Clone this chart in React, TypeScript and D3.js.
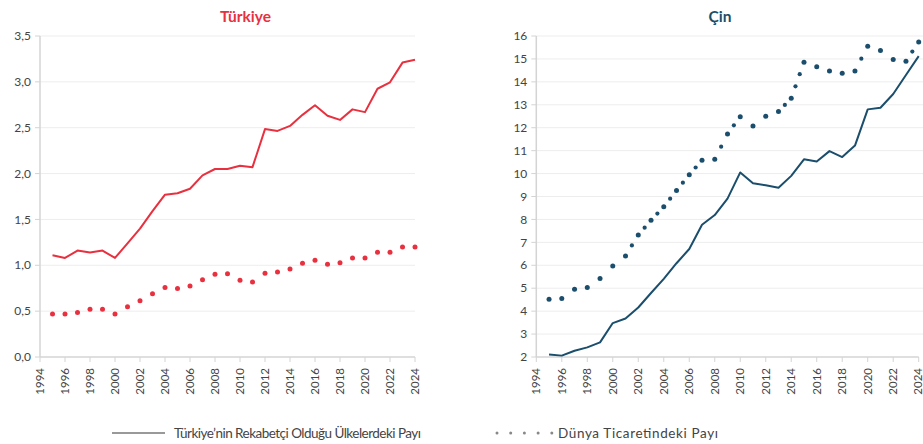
import React from "react";
import * as d3 from "d3";

const years = d3.range(1995, 2025);
const xTickYears = d3.range(1994, 2025, 2);

// Türkiye
const trRekabet = [1.11, 1.08, 1.16, 1.14, 1.16, 1.08, 1.24, 1.4, 1.59, 1.77, 1.785, 1.835, 1.98, 2.05, 2.05, 2.085, 2.07, 2.485, 2.465, 2.52, 2.64, 2.745, 2.63, 2.585, 2.7, 2.67, 2.925, 2.995, 3.21, 3.24];
const trDunya = [0.47, 0.47, 0.485, 0.52, 0.52, 0.47, 0.547, 0.613, 0.69, 0.759, 0.748, 0.774, 0.843, 0.901, 0.909, 0.836, 0.818, 0.912, 0.927, 0.96, 1.022, 1.055, 1.011, 1.029, 1.08, 1.08, 1.142, 1.142, 1.2, 1.2];
const trTicks = [0, 0.5, 1, 1.5, 2, 2.5, 3, 3.5];

// Çin
const cnRekabet = [2.11, 2.06, 2.27, 2.42, 2.64, 3.48, 3.68, 4.16, 4.79, 5.41, 6.09, 6.71, 7.77, 8.19, 8.91, 10.05, 9.58, 9.49, 9.38, 9.9, 10.62, 10.53, 10.98, 10.72, 11.22, 12.8, 12.87, 13.47, 14.3, 15.12];
const cnDunya = [4.52, 4.55, 4.96, 5.03, 5.42, 5.97, 6.41, 7.32, 7.96, 8.55, 9.26, 9.95, 10.58, 10.62, 11.73, 12.48, 12.07, 12.5, 12.71, 13.28, 14.86, 14.66, 14.47, 14.37, 14.47, 15.55, 15.37, 14.97, 14.9, 15.74];
const cnTicks = d3.range(2, 17);

const legendLabels = ["Türkiye’nin Rekabetçi Olduğu Ülkelerdeki Payı", "Dünya Ticaretindeki Payı"];

const RED = "#E8303F";
const TEAL = "#1A4E6C";
const FONT = "Lato, 'Noto Sans', sans-serif";

type PanelProps = {
  title: string;
  colour: string;
  titleX: number;
  left: number;
  right: number;
  gridRight: number;
  yMax: number;
  yMin: number;
  ticks: number[];
  fmt: (v: number) => string;
  solid: number[];
  dotted: number[];
};

const top = 36;
const bottom = 357;

// dots along each segment, like the round-dot dash of the original
function dotPoints(xs: number[], ys: number[]) {
  const pts: { x: number; y: number; v: boolean }[] = [];
  for (let i = 0; i < xs.length - 1; i++) {
    const dx = xs[i + 1] - xs[i];
    const dy = ys[i + 1] - ys[i];
    const len = Math.sqrt(dx * dx + dy * dy);
    const n = Math.max(1, Math.round(len / 12));
    for (let k = 0; k < n; k++) {
      pts.push({ x: xs[i] + (dx * k) / n, y: ys[i] + (dy * k) / n, v: k === 0 });
    }
  }
  pts.push({ x: xs[xs.length - 1], y: ys[ys.length - 1], v: true });
  return pts;
}

const Panel = (p: PanelProps) => {
  const x = d3.scaleLinear().domain([1994, 2024]).range([p.left, p.right]);
  const y = d3.scaleLinear().domain([p.yMin, p.yMax]).range([bottom, top]);

  const line = d3
    .line<number>()
    .x((d, i) => x(years[i]))
    .y((d) => y(d));

  const dots = dotPoints(
    years.map((yr) => x(yr)),
    p.dotted.map((v) => y(v))
  );

  return (
    <g>
      <text x={p.titleX} y={22} textAnchor="middle" fill={p.colour} fontSize={15.5} fontWeight={700} fontFamily={FONT}>
        {p.title}
      </text>
      {p.ticks.map((t) => (
        <g key={t}>
          {t !== p.yMin && (
            <line x1={p.left} x2={p.gridRight} y1={y(t)} y2={y(t)} stroke="#EDEDED" strokeWidth={1} />
          )}
          <line x1={p.left - 5} x2={p.left} y1={y(t)} y2={y(t)} stroke="#D4D4D4" strokeWidth={1} />
          <text x={p.left - 9} y={y(t)} dy="0.35em" textAnchor="end" fontSize={12} fill="#444" fontFamily={FONT}>
            {p.fmt(t)}
          </text>
        </g>
      ))}
      <line x1={p.left} x2={p.left} y1={top} y2={bottom} stroke="#D4D4D4" strokeWidth={1.5} />
      <line x1={p.left} x2={p.right} y1={bottom} y2={bottom} stroke="#D4D4D4" strokeWidth={1.5} />
      {xTickYears.map((yr) => (
        <g key={yr}>
          <line x1={x(yr)} x2={x(yr)} y1={bottom} y2={bottom + 5} stroke="#D4D4D4" strokeWidth={1} />
          <text
            transform={`translate(${Math.min(x(yr), 917.5)},${bottom + 11}) rotate(-90)`}
            dy="0.35em"
            textAnchor="end"
            fontSize={11.5}
            fill="#444"
            fontFamily={FONT}
          >
            {yr}
          </text>
        </g>
      ))}
      <path d={line(p.solid) || ""} fill="none" stroke={p.colour} strokeWidth={2} strokeLinejoin="round" />
      {dots.map((d, i) => (
        <circle key={i} cx={d.x} cy={d.y} r={d.v ? 2.5 : 2.1} fill={p.colour} />
      ))}
    </g>
  );
};

const fmtTr = (v: number) => d3.format(".1f")(v).replace(".", ",");
const fmtCn = (v: number) => String(v);

export default function App() {
  return (
    <svg width={923} height={444} style={{ position: "absolute", left: 0, top: 0, background: "#fff" }}>
      <Panel
        title="Türkiye"
        colour={RED}
        titleX={245.5}
        left={40}
        right={415}
        gridRight={415}
        yMin={0}
        yMax={3.5}
        ticks={trTicks}
        fmt={fmtTr}
        solid={trRekabet}
        dotted={trDunya}
      />
      <Panel
        title="Çin"
        colour={TEAL}
        titleX={720}
        left={536.3}
        right={918.7}
        gridRight={923}
        yMin={2}
        yMax={16}
        ticks={cnTicks}
        fmt={fmtCn}
        solid={cnRekabet}
        dotted={cnDunya}
      />
      <g fontFamily={FONT} fontSize={13.5} fill="#444">
        <line x1={112} x2={165} y1={433} y2={433} stroke="#777" strokeWidth={1.5} />
        <text x={174} y={433} dy="0.35em" textLength={247} lengthAdjust="spacing">{legendLabels[0]}</text>
        {d3.range(5).map((i) => (
          <circle key={i} cx={497 + i * 13.7} cy={433} r={1.5} fill="#888" />
        ))}
        <text x={558} y={433} dy="0.35em" textLength={160} lengthAdjust="spacing">{legendLabels[1]}</text>
      </g>
    </svg>
  );
}
